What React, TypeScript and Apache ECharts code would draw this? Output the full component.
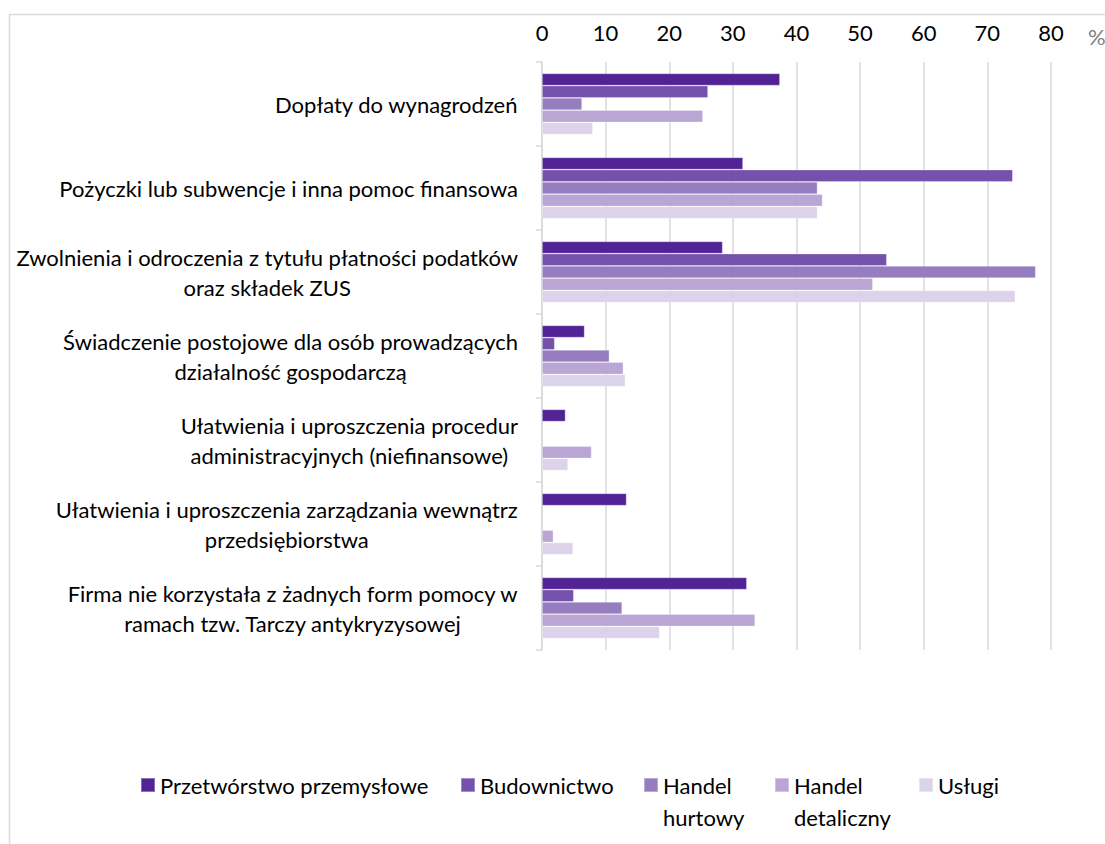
import React, { useEffect, useRef } from "react";
import * as echarts from "echarts";

const categories = [
  "Dopłaty do wynagrodzeń",
  "Pożyczki lub subwencje i inna pomoc finansowa",
  "Zwolnienia i odroczenia z tytułu płatności podatków\noraz składek ZUS",
  "Świadczenie postojowe dla osób prowadzących\ndziałalność gospodarczą",
  "Ułatwienia i uproszczenia procedur\nadministracyjnych (niefinansowe)",
  "Ułatwienia i uproszczenia zarządzania wewnątrz\nprzedsiębiorstwa",
  "Firma nie korzystała z żadnych form pomocy w\nramach tzw. Tarczy antykryzysowej",
];

const seriesNames = [
  "Przetwórstwo przemysłowe",
  "Budownictwo",
  "Handel hurtowy",
  "Handel detaliczny",
  "Usługi",
];

const przetworstwo = [37.4, 31.6, 28.4, 6.7, 3.7, 13.3, 32.2];
const budownictwo = [26.1, 74.0, 54.2, 2.0, null, null, 5.0];
const handelHurtowy = [6.3, 43.3, 77.6, 10.6, null, null, 12.6];
const handelDetaliczny = [25.3, 44.1, 52.0, 12.8, 7.8, 1.8, 33.5];
const uslugi = [8.0, 43.3, 74.4, 13.1, 4.1, 4.9, 18.5];

const xTicks = { min: 0, max: 80, interval: 10 };
const unitLabel = "%";

const colors = ["#522394", "#7451ab", "#967dbf", "#b9a6d5", "#dcd3ea"];
const FONT = "Lato";
const FS = 22;

export default function App() {
  const ref = useRef<HTMLDivElement>(null);
  useEffect(() => {
    if (!ref.current) return;
    const chart = echarts.init(ref.current, undefined, { renderer: "svg" });
    const values = [przetworstwo, budownictwo, handelHurtowy, handelDetaliczny, uslugi];
    const legendLefts = [140, 460, 643, 774, 918];
    const twoLine = [false, false, true, true, false];
    const option: any = {
      animation: false,
      backgroundColor: "#ffffff",
      textStyle: { fontFamily: FONT },
      grid: { left: 542, right: 54, top: 62, bottom: 194, containLabel: false },
      xAxis: {
        type: "value",
        position: "top",
        min: xTicks.min,
        max: xTicks.max,
        interval: xTicks.interval,
        axisLine: { show: false },
        axisTick: { show: false },
        splitLine: { show: true, lineStyle: { color: "#d9d9d9", width: 1.5 } },
        axisLabel: {
          margin: 15,
          fontSize: FS,
          fontFamily: FONT,
          color: "#000000",
          lineHeight: 30,
        },
      },
      yAxis: {
        type: "category",
        inverse: true,
        data: categories,
        axisLine: { show: true, lineStyle: { color: "#d9d9d9", width: 1.5 } },
        axisTick: { show: true, length: 6, lineStyle: { color: "#d9d9d9", width: 1.5 } },
        axisLabel: {
          margin: 24,
          interval: 0,
          formatter: (v: string) =>
            v
              .split("\n")
              .map((l) => `{c|${l}}`)
              .join("\n"),
          rich: {
            c: {
              align: "center",
              fontSize: FS,
              fontFamily: FONT,
              color: "#000000",
              lineHeight: 30,
            },
          },
        },
      },
      legend: seriesNames.map((n, i) => ({
        data: [n],
        left: legendLefts[i],
        top: twoLine[i] ? 737 : 769,
        padding: 0,
        orient: "horizontal",
        itemWidth: 14,
        itemHeight: 14,
        icon: "rect",
        selectedMode: false,
        formatter: (name: string) => (twoLine[i] ? "\n" + name.replace(" ", "\n") : name),
        textStyle: {
          fontSize: FS,
          fontFamily: FONT,
          color: "#000000",
          lineHeight: 32,
        },
      })),
      graphic: [
        {
          type: "rect",
          shape: { x: 9.5, y: 14.5, width: 1200, height: 900 },
          style: { fill: "none", stroke: "#d9d9d9", lineWidth: 1.5 },
          silent: true,
          z: -1,
        },
        {
          type: "text",
          left: 1088,
          top: 25,
          style: { text: unitLabel, fontSize: FS, fontFamily: FONT, fill: "#7f7f7f" },
        },
      ],
      series: seriesNames.map((n, i) => ({
        name: n,
        type: "bar",
        data: values[i],
        barGap: "0%",
        barCategoryGap: "27%",
        itemStyle: { color: colors[i], borderColor: "rgba(255,255,255,0.35)", borderWidth: 0.8 },
      })),
    };
    chart.setOption(option);
    return () => chart.dispose();
  }, []);
  return (
    <div
      ref={ref}
      style={{ position: "absolute", left: 0, top: 0, width: 1105, height: 844, overflow: "hidden" }}
    />
  );
}
